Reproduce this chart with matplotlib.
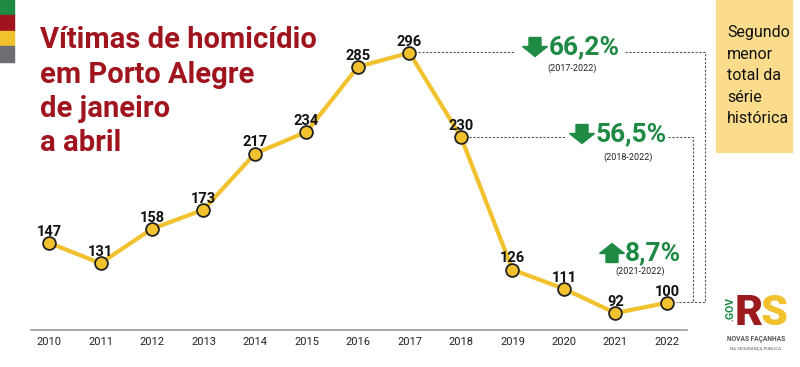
import matplotlib
matplotlib.use("Agg")
import matplotlib.pyplot as plt
from matplotlib.patches import Rectangle, Polygon
from matplotlib.lines import Line2D

plt.rcParams['font.family'] = ['Roboto', 'DejaVu Sans']

years = [2010, 2011, 2012, 2013, 2014, 2015, 2016, 2017, 2018, 2019, 2020, 2021, 2022]
victims = [147, 131, 158, 173, 217, 234, 285, 296, 230, 126, 111, 92, 100]
title_lines = ["Vítimas de homicídio", "em Porto Alegre", "de janeiro", "a abril"]
note = "Segundo\nmenor\ntotal da\nsérie\nhistórica"
changes = [("66,2%", "(2017-2022)", "down"), ("56,5%", "(2018-2022)", "down"), ("8,7%", "(2021-2022)", "up")]

W, H = 800, 367
fig = plt.figure(figsize=(8, 3.67), dpi=100)
fig.patch.set_facecolor("white")

def fx(px):
    return px / W

def fy(py):
    return 1 - py / H

ax = fig.add_axes([fx(31), fy(330), fx(687) - fx(31), fy(40) - fy(330)])
ax.set_xlim(2009.65, 2022.39)
ax.set_ylim(78.7, 306)
for s in ["top", "right", "left"]:
    ax.spines[s].set_visible(False)
ax.spines["bottom"].set_color("#9a9a9a")
ax.spines["bottom"].set_linewidth(1.2)
ax.set_yticks([])
ax.set_xticks(years)
ax.set_xticklabels([str(y) for y in years], fontsize=8, color="#222222")
ax.tick_params(axis="x", length=0, pad=5)
ax.set_facecolor("none")

yellow = "#F2C12E"
ax.plot(years, victims, color=yellow, lw=3, zorder=3, solid_capstyle="round")
ax.scatter(years, victims, s=85, color=yellow, edgecolor="#222222", linewidth=1.3, zorder=4)
for x, v in zip(years, victims):
    ax.annotate(str(v), (x, v), xytext=(0, 3), textcoords="offset points",
                ha="center", va="bottom", fontsize=10.5, fontweight="bold", color="#111111", zorder=5)

# dashed connector lines in figure pixel coords
dash = dict(color="#555555", lw=0.8, linestyle=(0, (2, 1.5)), transform=fig.transFigure, zorder=1)

def line(xs, ys):
    fig.add_artist(Line2D([fx(x) for x in xs], [fy(y) for y in ys], **dash))

line([418, 515], [52, 52])
line([625, 705, 705, 676], [52, 52, 302, 302])
line([469, 565], [137, 137])
line([668, 693, 693], [137, 137, 302])

green = "#1E8A44"

def block_arrow(cx, cy, kind):
    sw, hw, hh, th = 6, 12.5, 10, 19
    top, bot = cy - th / 2, cy + th / 2
    if kind == "down":
        pts = [(cx - sw, top), (cx + sw, top), (cx + sw, bot - hh), (cx + hw, bot - hh),
               (cx, bot), (cx - hw, bot - hh), (cx - sw, bot - hh)]
    else:
        pts = [(cx - sw, bot), (cx + sw, bot), (cx + sw, top + hh), (cx + hw, top + hh),
               (cx, top), (cx - hw, top + hh), (cx - sw, top + hh)]
    fig.add_artist(Polygon([(fx(a), fy(b)) for a, b in pts], closed=True, color=green,
                           transform=fig.transFigure))

pcts = [(549, 47, 572, 68, 535), (596, 134, 628, 157, 582), (625, 253, 640, 271, 612)]
for (txt, sub, kind), (tx, ty, sx, sy, axx) in zip(changes, pcts):
    fig.text(fx(tx), fy(ty), txt, fontsize=19, fontweight="bold", color=green, ha="left", va="center")
    fig.text(fx(sx), fy(sy), sub, fontsize=6.5, color="#222222", ha="center", va="center")
    block_arrow(axx, ty, kind)

# title, one text per line
for t, base in zip(title_lines, [48, 83, 117, 151]):
    fig.text(fx(40), fy(base), t, fontsize=21, fontweight="bold", color="#A0141E",
             ha="left", va="baseline")

# note box
fig.add_artist(Rectangle((fx(716), fy(152)), fx(792) - fx(716), fy(0) - fy(152),
                         transform=fig.transFigure, color="#FADC8C", zorder=0))
fig.text(fx(727), fy(25), note, fontsize=11.5, color="#111111", ha="left", va="top", linespacing=1.55)

# flag bars
flag = [("#1E8A44", 0, 15), ("#A0141E", 15, 31), ("#F2C12E", 31, 46), ("#6D6E71", 46, 62)]
for c, y0, y1 in flag:
    fig.add_artist(Rectangle((0, fy(y1)), fx(14), fy(y0) - fy(y1), transform=fig.transFigure, color=c))

# logo
fig.text(fx(730), fy(309), ".GOV", fontsize=7.5, fontweight="bold", color=green, rotation=90,
         ha="center", va="center")
fig.text(fx(735), fy(325), "R", fontsize=31, fontweight="black", color="#9B1B1F", ha="left", va="baseline")
fig.text(fx(761), fy(325), "S", fontsize=31, fontweight="black", color="#F2C12E", ha="left", va="baseline")
fig.text(fx(756), fy(339), "NOVAS FAÇANHAS", fontsize=4.8, fontweight="bold", color="#555555", ha="center", va="center")
fig.text(fx(756), fy(349), "NA SEGURANÇA PÚBLICA", fontsize=3.2, color="#555555", ha="center", va="center")

fig.savefig("out.png", dpi=100)
